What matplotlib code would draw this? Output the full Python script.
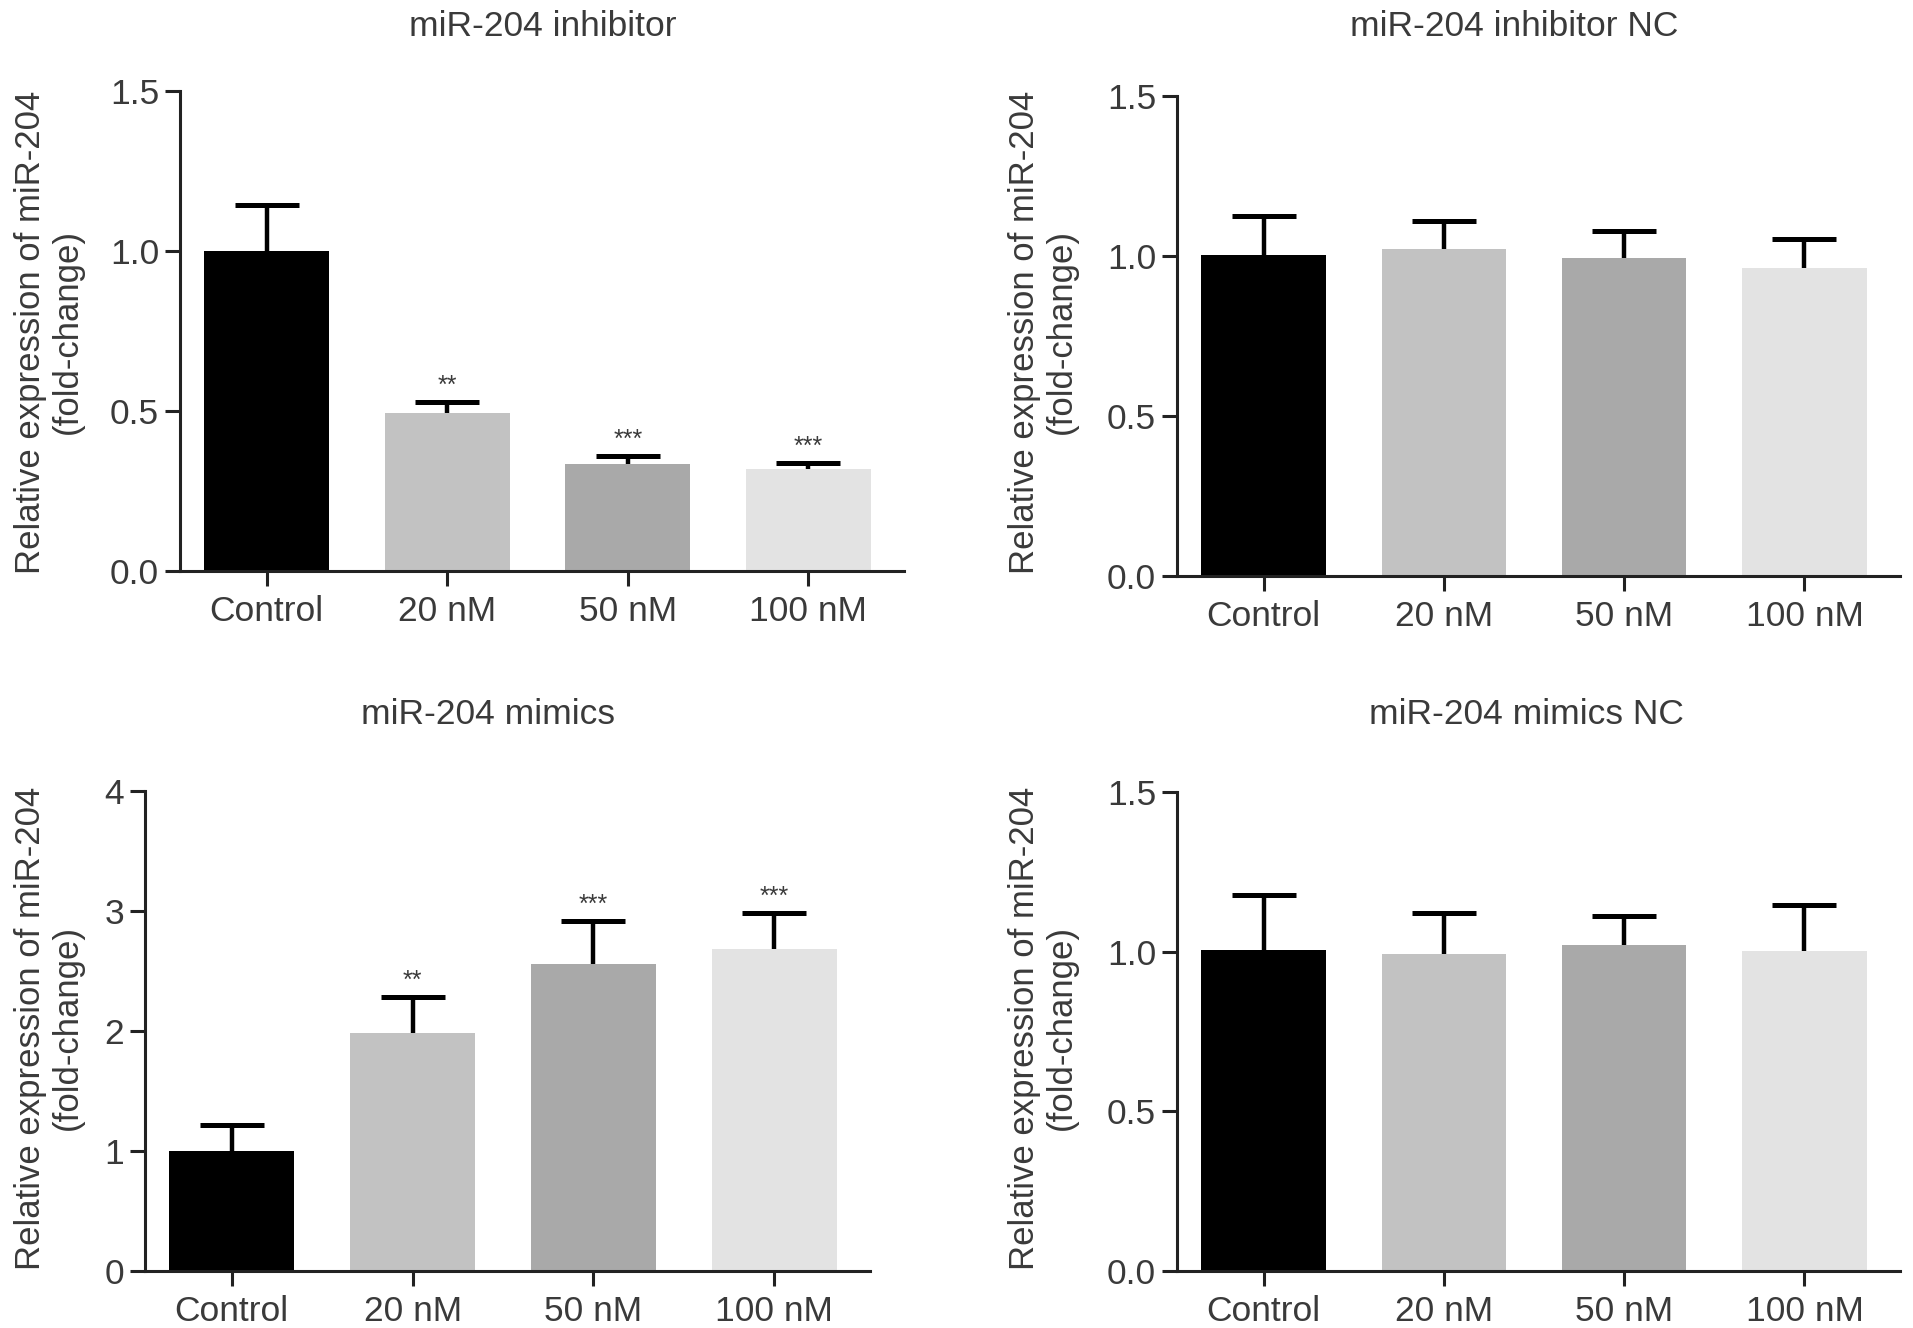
import numpy as np
import matplotlib
matplotlib.use("Agg")
import matplotlib.pyplot as plt

plt.rcParams['font.family'] = ['Liberation Sans', 'DejaVu Sans']

groups = ["Control", "20 nM", "50 nM", "100 nM"]
bar_colors = ["#000000", "#c2c2c2", "#a9a9a9", "#e3e3e3"]

inhib_mean = [1.00, 0.494, 0.333, 0.318]
inhib_err = [0.144, 0.034, 0.027, 0.019]
inhib_sig = ["", "**", "***", "***"]

inhibnc_mean = [1.003, 1.022, 0.995, 0.964]
inhibnc_err = [0.122, 0.088, 0.084, 0.088]

mimic_mean = [1.00, 1.98, 2.56, 2.68]
mimic_err = [0.214, 0.306, 0.36, 0.30]
mimic_sig = ["", "**", "***", "***"]

mimicnc_mean = [1.005, 0.993, 1.02, 1.001]
mimicnc_err = [0.173, 0.127, 0.092, 0.146]

W, H = 1913, 1328
fig = plt.figure(figsize=(W / 100, H / 100), dpi=100)

ylab = "Relative expression of miR-204\n(fold-change)"
text_col = "#3a3a3a"


def panel(px, title, title_xy, ylab_xy, means, errs, yticks, yfmt, sig=None):
    l, r, t, b = px
    ax = fig.add_axes([l / W, 1 - b / H, (r - l) / W, (b - t) / H])
    x = np.arange(len(groups))
    ax.bar(x, means, width=0.69, color=bar_colors, zorder=2)
    eb = ax.errorbar(x, means, yerr=[np.zeros(len(means)), errs], fmt='none',
                     ecolor='black', elinewidth=3.2, capsize=23, capthick=3.6, zorder=3)
    # only the upper cap is shown
    eb[1][0].set_visible(False)
    if sig:
        for xi, m, e, s in zip(x, means, errs, sig):
            if s:
                ax.annotate(s, (xi, m + e), xytext=(0, 3), textcoords='offset points',
                            ha='center', va='bottom', fontsize=18, color=text_col)
    ax.set_xlim(-0.48, 3.53)
    ax.set_ylim(yticks[0], yticks[-1])
    ax.set_yticks(yticks)
    ax.set_yticklabels([yfmt.format(v) for v in yticks])
    ax.set_xticks(x)
    ax.set_xticklabels(groups)
    for s in ['top', 'right']:
        ax.spines[s].set_visible(False)
    for s in ['left', 'bottom']:
        ax.spines[s].set_linewidth(2.2)
        ax.spines[s].set_color('#222222')
    ax.tick_params(axis='both', direction='out', length=11, width=2.2, color='#222222',
                   labelsize=25.5, labelcolor=text_col)
    ax.tick_params(axis='x', pad=6)
    ax.tick_params(axis='y', pad=4)
    fig.text(title_xy[0] / W, 1 - title_xy[1] / H, title, ha='center', va='center',
             fontsize=25.5, color=text_col)
    fig.text(ylab_xy[0] / W, 1 - ylab_xy[1] / H, ylab, ha='center', va='center',
             rotation=90, fontsize=25, color=text_col, multialignment='center',
             linespacing=1.15)
    return ax


panel((180, 904, 91, 571), "miR-204 inhibitor", (543, 27), (49, 332),
      inhib_mean, inhib_err, [0, 0.5, 1.0, 1.5], "{:.1f}", inhib_sig)
panel((1177, 1900, 96, 576), "miR-204 inhibitor NC", (1514, 27), (1043, 332),
      inhibnc_mean, inhibnc_err, [0, 0.5, 1.0, 1.5], "{:.1f}")
panel((145, 870, 791, 1271), "miR-204 mimics", (488, 714), (49, 1028),
      mimic_mean, mimic_err, [0, 1, 2, 3, 4], "{:.0f}", mimic_sig)
panel((1177, 1900, 792, 1271), "miR-204 mimics NC", (1526, 714), (1043, 1028),
      mimicnc_mean, mimicnc_err, [0, 0.5, 1.0, 1.5], "{:.1f}")

fig.savefig("out.png", dpi=100)
